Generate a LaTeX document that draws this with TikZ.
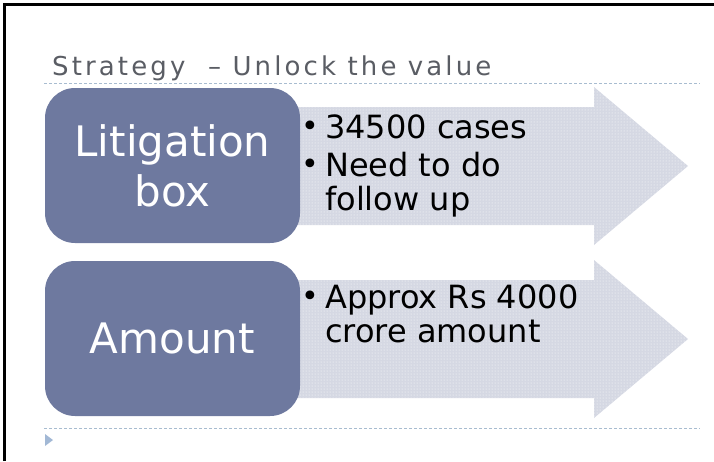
\documentclass[tikz,border=0pt]{standalone}
\usepackage{fontspec}
\setmainfont{DejaVu Sans}
\newfontfamily\titlefont[LetterSpace=12]{DejaVu Sans}
\usetikzlibrary{patterns,positioning}

\definecolor{boxblue}{HTML}{6E799F}
\definecolor{arrowgray}{HTML}{D5D8E3}
\definecolor{ruleblue}{HTML}{A8BCD0}
\definecolor{markblue}{HTML}{A2B8D5}
\definecolor{titlegray}{HTML}{5A5D64}

\newcommand{\bul}{\makebox[24pt][l]{\raisebox{2pt}{\fontsize{30}{30}\selectfont\textbullet}}}
\newcommand{\cont}{\hspace*{24pt}}

\begin{document}
\begin{tikzpicture}[
    x=1pt, y=-1pt,
    keybox/.style={rectangle, rounded corners=30pt, fill=boxblue, minimum width=255pt, minimum height=155pt, text=white, font=\fontsize{42}{50}\selectfont, align=center, inner sep=0pt},
    bigarrow/.style={fill=arrowgray},
    arrowdots/.style={pattern=dots, pattern color=white},
    notes/.style={font=\fontsize{32}{34}\selectfont, align=left, inner sep=0pt, anchor=base west},
    rule/.style={ruleblue, line width=1pt, dash pattern=on 3pt off 2pt},
    title/.style={font=\titlefont\fontsize{26}{30}\selectfont, text=titlegray, inner sep=0pt, anchor=base west}
]
\useasboundingbox (0,0) rectangle (714,461);

% slide frame
\draw[line width=2.5pt] (4.5,461) -- (4.5,4.5) -- (714,4.5);

% Title
\node[title] (title) at (52,75) {Strategy\ \ \textendash\ Unlock the value};
\draw[rule] (44,83) -- (700,83);

% Arrows (drawn first, behind the boxes)
\foreach \y/\nm in {166/arrA, 339/arrB} {
    \coordinate (\nm) at (688,\y);
    \path[bigarrow] (280,\y-59) -- (594,\y-59) -- (594,\y-79) -- (\nm) -- (594,\y+79) -- (594,\y+59) -- (280,\y+59) -- cycle;
    \path[arrowdots] (280,\y-59) -- (594,\y-59) -- (594,\y-79) -- (\nm) -- (594,\y+79) -- (594,\y+59) -- (280,\y+59) -- cycle;
}

% Key boxes
\node[keybox] (litbox) at (172.5,165.5) {Litigation\\box};
\node[keybox] (amtbox) at (172.5,338.5) {Amount};

% Bullet notes (base = last line)
\node[notes] (litnotes) at (301,210) {\bul 34500 cases\\[4pt]\bul Need to do\\\cont follow up};
\node[notes] (amtnotes) at (301,342) {\bul Approx Rs 4000\\\cont crore amount};

% Footer
\draw[rule] (44,428) -- (700,428);
\fill[markblue] (45,434) -- (53,440) -- (45,446) -- cycle;

\end{tikzpicture}
\end{document}
